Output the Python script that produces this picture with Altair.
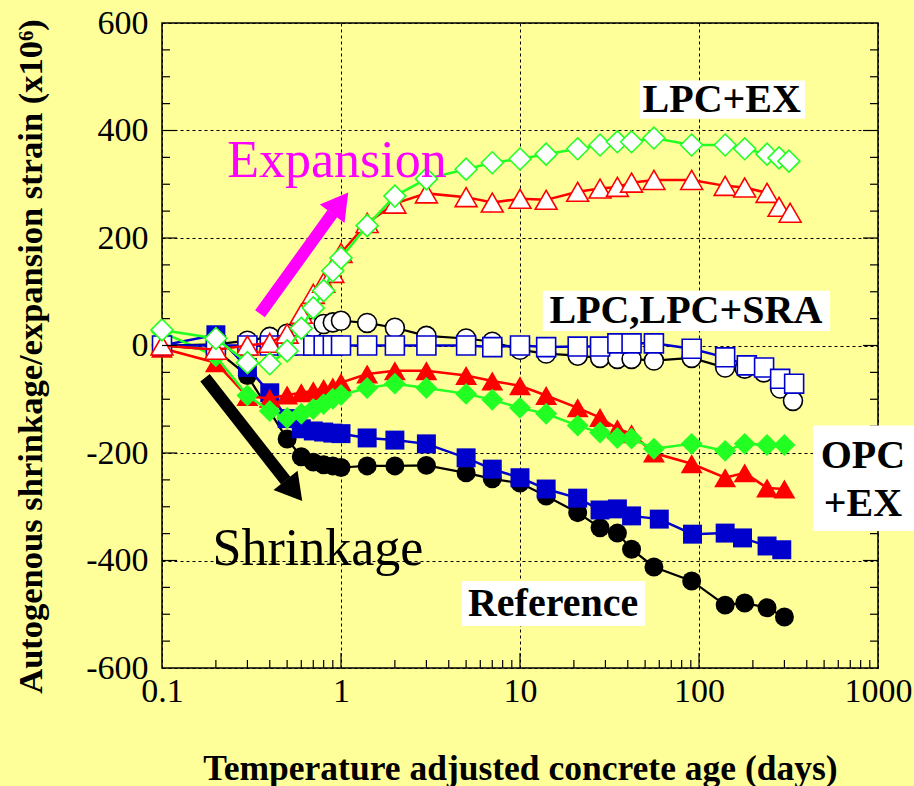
import altair as alt
import pandas as pd

FONT = "Liberation Serif"
BG = "#FFFF99"

# ---------------- data (age in days, strain x10^-6) ----------------
# Reference (OPC) - black filled circles
ref_x = [0.1, 0.2, 0.3, 0.5, 0.6, 0.7, 0.8, 0.9, 1.0, 1.4, 2, 3, 5, 7, 10, 14, 21, 28, 35, 42, 56, 91, 140, 180, 240, 300]
ref_y = [0, -8, -56, -174, -207, -217, -222, -224, -227, -224, -224, -223, -237, -248, -256, -280, -311, -339, -349, -379, -412, -438, -483, -479, -488, -505]

# blue filled squares
opc_x = [0.1, 0.2, 0.3, 0.4, 0.5, 0.6, 0.7, 0.8, 0.9, 1.0, 1.4, 2, 3, 5, 7, 10, 14, 21, 28, 35, 42, 60, 92, 140, 175, 240, 290]
opc_y = [0, 20, -41, -88, -136, -155, -159, -161, -163, -164, -172, -176, -183, -209, -230, -246, -267, -284, -306, -304, -317, -323, -351, -349, -358, -373, -380]

# OPC+EX - red filled triangles
opcex_r_x = [0.1, 0.2, 0.3, 0.4, 0.5, 0.6, 0.7, 0.8, 0.9, 1.0, 1.4, 2, 3, 5, 7, 10, 14, 21, 28, 35, 42, 56, 91, 140, 180, 240, 300]
opcex_r_y = [-5, -32, -95, -98, -92, -88, -84, -80, -77, -69, -53, -47, -47, -56, -66, -75, -93, -116, -134, -155, -164, -200, -220, -246, -237, -265, -267]

# OPC+EX - green filled diamonds
opcex_g_x = [0.1, 0.2, 0.3, 0.4, 0.5, 0.6, 0.7, 0.8, 0.9, 1.0, 1.4, 2, 3, 5, 7, 10, 14, 21, 28, 35, 42, 56, 91, 140, 180, 240, 300]
opcex_g_y = [25, -20, -93, -122, -135, -127, -118, -109, -99, -92, -79, -71, -79, -90, -101, -116, -127, -149, -162, -172, -173, -192, -183, -196, -183, -185, -185]

# LPC - black open circles
lpc_x = [0.1, 0.2, 0.3, 0.4, 0.5, 0.6, 0.7, 0.8, 0.9, 1.0, 1.4, 2, 3, 5, 7, 10, 14, 21, 28, 35, 42, 56, 91, 140, 180, 230, 284, 335]
lpc_y = [0, 2, 9, 16, 22, 28, 33, 40, 43, 46, 42, 33, 18, 13, 7, -8, -15, -19, -23, -25, -25, -28, -23, -41, -43, -50, -80, -103]

# LPC+SRA - blue open squares
lpcsra_x = [0.1, 0.2, 0.3, 0.4, 0.5, 0.6, 0.7, 0.8, 0.9, 1.0, 1.4, 2, 3, 5, 7, 10, 14, 21, 28, 35, 42, 56, 91, 140, 185, 231, 284, 340]
lpcsra_y = [0, 0, 0, 0, 0, 0, 0, 0, 0, 0, 0, 0, 0, 0, -3, 0, -3, -2, -2, 4, 4, 4, -6, -22, -37, -41, -62, -71]

# LPC+EX - red open triangles
lpcex_r_x = [0.1, 0.2, 0.3, 0.4, 0.5, 0.6, 0.7, 0.8, 0.9, 1.0, 1.4, 2, 3, 5, 7, 10, 14, 21, 28, 35, 42, 56, 91, 140, 180, 240, 280, 323]
lpcex_r_y = [0, -8, 0, 5, 22, 59, 96, 117, 135, 172, 228, 264, 283, 276, 266, 273, 271, 286, 292, 295, 303, 308, 308, 297, 294, 284, 258, 247]

# LPC+EX - green open diamonds
lpcex_g_x = [0.1, 0.2, 0.3, 0.4, 0.5, 0.6, 0.7, 0.8, 0.9, 1.0, 1.4, 2, 3, 5, 7, 10, 14, 21, 28, 35, 42, 56, 91, 140, 180, 240, 280, 318]
lpcex_g_y = [29, 13, -32, -34, -10, 32, 70, 102, 139, 163, 223, 278, 310, 328, 340, 347, 356, 366, 373, 379, 379, 386, 373, 373, 366, 356, 349, 343]

# ---------------- annotations ----------------
label_text = ["LPC+EX", "LPC,LPC+SRA", "OPC", "+EX", "Reference"]
label_x = [134, 84.5, 824, 824, 15.3]
label_y = [457, 65, -205, -294, -481]
box_x1 = [46.8, 13.4, 433, 4.74]
box_x2 = [391, 540, 1589, 49.9]
box_y1 = [422, 27, -345, -522]
box_y2 = [493, 102, -149, -438]

word_text = ["Expansion", "Shrinkage"]
word_x = [0.95, 0.744]
word_y = [344, -378]
word_color = ["#FF00FF", "#000000"]

arrow_x1 = [0.3528, 0.1739]
arrow_y1 = [59.0, -60.1]
arrow_x2 = [0.895, 0.4909]
arrow_y2 = [245.5, -251.3]
head_x = [0.9898, 0.5456]
head_y = [264.9, -270.1]
head_angle = [36.9, 141.3]
arrow_color = ["#FF00FF", "#000000"]

# ---------------- scales / axes ----------------
xscale = alt.Scale(type="log", domain=[0.1, 1000], nice=False)
yscale = alt.Scale(domain=[-600, 600], nice=False, zero=False)

xaxis = alt.Axis(
    values=[0.1, 1, 10, 100, 1000],
    labelExpr="datum.value < 1 ? '0.1' : format(datum.value, 'd')",
    grid=True, gridDash=[3, 3], gridColor="black", gridWidth=1,
    ticks=False, tickSize=0, domain=False,
    labelFont=FONT, labelFontSize=34, labelColor="black", labelPadding=6,
    labelOverlap=False, labelFlush=False, labelBound=False,
    title="Temperature adjusted concrete age (days)",
    titleFont=FONT, titleFontSize=35.5, titleFontWeight="bold", titleColor="black",
    titleY=111, titleBaseline="alphabetic",
)
yaxis = alt.Axis(
    values=[-600, -400, -200, 0, 200, 400, 600],
    labelExpr="datum.value < 0 ? '-' + format(-datum.value, 'd') : format(datum.value, 'd')",
    grid=True, gridDash=[3, 3], gridColor="black", gridWidth=1,
    ticks=False, tickSize=0, domain=False,
    labelFont=FONT, labelFontSize=34, labelColor="black", labelPadding=14,
    labelOverlap=False, labelFlush=False, labelBound=False,
    title="Autogenous shrinkage/expansion strain (x10⁶)",
    titleFont=FONT, titleFontSize=34.5, titleFontWeight="bold", titleColor="black",
    titleX=-121, titleY=333, titleBaseline="alphabetic",
)


def XE(field="x"):
    return alt.X(f"{field}:Q", scale=xscale, axis=xaxis)


def YE(field="y"):
    return alt.Y(f"{field}:Q", scale=yscale, axis=yaxis)


def series(xs, ys, color, shape, open_marker, size, lw=2.5):
    df = pd.DataFrame({"x": xs, "y": ys})
    base = alt.Chart(df).encode(x=XE("x"), y=YE("y"))
    line = base.mark_line(color=color, strokeWidth=lw)
    if open_marker:
        pts = base.mark_point(shape=shape, size=size, filled=True, fill="white",
                              stroke=color, strokeWidth=1.6, opacity=1)
    else:
        pts = base.mark_point(shape=shape, size=size, filled=True, color=color, opacity=1)
    return [line, pts]


layers = []
layers += series(ref_x, ref_y, "#000000", "circle", False, 360, lw=2.2)
layers += series(opc_x, opc_y, "#0000CC", "square", False, 360)
layers += series(opcex_r_x, opcex_r_y, "#FF0000", "triangle-up", False, 480)
layers += series(opcex_g_x, opcex_g_y, "#22FF22", "diamond", False, 480)
layers += series(lpc_x, lpc_y, "#000000", "circle", True, 360, lw=2.2)
layers += series(lpcsra_x, lpcsra_y, "#0000CC", "square", True, 360)
layers += series(lpcex_r_x, lpcex_r_y, "#FF0000", "triangle-up", True, 480)
layers += series(lpcex_g_x, lpcex_g_y, "#22FF22", "diamond", True, 480)

# ---------------- inward ticks ----------------
W, H = 716, 645
y_minor = [v for v in range(-550, 600, 50) if v % 200 != 0]
y_major = [-400, -200, 0, 200, 400]
x_minor = [d * 10.0 ** k for k in range(-1, 3) for d in range(2, 10)]
x_major = [1, 10, 100]

ym = pd.DataFrame({"v": y_minor})
yM = pd.DataFrame({"v": y_major})
xm = pd.DataFrame({"v": x_minor})
xM = pd.DataFrame({"v": x_major})

tick_style = dict(color="black", strokeWidth=1.2)
for df, ln in [(ym, 8), (yM, 15)]:
    layers.append(alt.Chart(df).mark_rule(**tick_style).encode(
        x=alt.value(0), x2=alt.value(ln), y=YE("v")))
    layers.append(alt.Chart(df).mark_rule(**tick_style).encode(
        x=alt.value(W), x2=alt.value(W - ln), y=YE("v")))
for df, ln in [(xm, 8), (xM, 15)]:
    layers.append(alt.Chart(df).mark_rule(**tick_style).encode(
        y=alt.value(H), y2=alt.value(H - ln), x=XE("v")))

# ---------------- arrows ----------------
arr = pd.DataFrame({"x1": arrow_x1, "y1": arrow_y1, "x2": arrow_x2, "y2": arrow_y2,
                    "hx": head_x, "hy": head_y, "ang": head_angle, "c": arrow_color})
layers.append(alt.Chart(arr).mark_rule(strokeWidth=12, strokeCap="butt").encode(
    x=XE("x1"), y=YE("y1"), x2=alt.X2("x2:Q"), y2=alt.Y2("y2:Q"),
    color=alt.Color("c:N", scale=None)))
layers.append(alt.Chart(arr).mark_point(shape="triangle-up", size=950, filled=True, opacity=1).encode(
    x=XE("hx"), y=YE("hy"), angle=alt.Angle("ang:Q", scale=None),
    color=alt.Color("c:N", scale=None)))

# ---------------- words ----------------
words = pd.DataFrame({"t": word_text, "x": word_x, "y": word_y, "c": word_color})
layers.append(alt.Chart(words).mark_text(font=FONT, fontSize=52, align="center", baseline="middle").encode(
    x=XE("x"), y=YE("y"), text="t:N", color=alt.Color("c:N", scale=None)))

# ---------------- labelled boxes ----------------
boxes = pd.DataFrame({"x1": box_x1, "x2": box_x2, "y1": box_y1, "y2": box_y2})
layers.append(alt.Chart(boxes).mark_rect(color="white", opacity=1).encode(
    x=XE("x1"), x2=alt.X2("x2:Q"), y=YE("y1"), y2=alt.Y2("y2:Q")))
labels = pd.DataFrame({"t": label_text, "x": label_x, "y": label_y})
layers.append(alt.Chart(labels).mark_text(font=FONT, fontSize=40, fontWeight="bold", color="black",
                                          align="center", baseline="middle").encode(
    x=XE("x"), y=YE("y"), text="t:N"))

chart = alt.layer(*layers).properties(
    width=W, height=H,
    padding={"left": 162, "top": 23, "right": 36, "bottom": 118},
    autosize=alt.AutoSizeParams(type="none"),
    background=BG,
).configure_view(stroke="black", strokeWidth=1.5, fill=BG)

chart.save("out.html", embed_options={"renderer": "svg", "actions": False})
